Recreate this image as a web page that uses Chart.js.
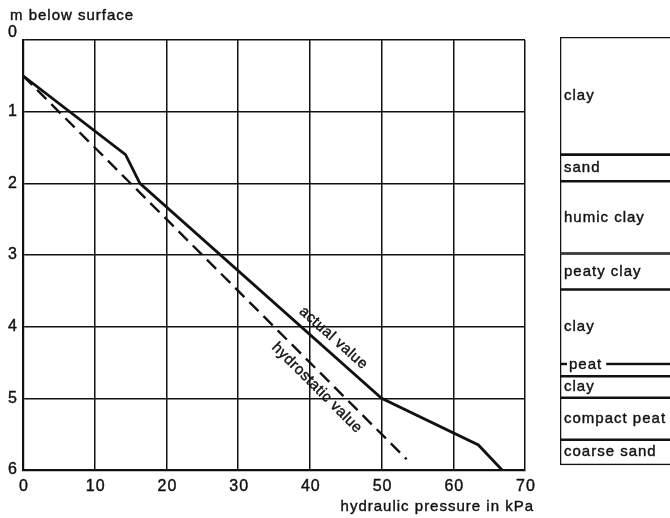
<!DOCTYPE html>
<html>
<head>
<meta charset="utf-8">
<script src="https://cdn.jsdelivr.net/npm/chart.js@4.4.1/dist/chart.umd.min.js"></script>
<style>
  html, body { margin: 0; padding: 0; background: #fff; overflow: hidden; }
  #wrap { position: relative; width: 670px; height: 518px; overflow: hidden; }
  #main { position: absolute; left: 0; top: 0; }
  #soil { position: absolute; left: 559px; top: 0; }
</style>
</head>
<body>
<div id="wrap">
  <canvas id="main" width="670" height="518"></canvas>
  <canvas id="soil" width="140" height="518"></canvas>
</div>
<script>
// axis ticks
const pressureTicks = [0, 10, 20, 30, 40, 50, 60, 70];
const depthTicks = [0, 1, 2, 3, 4, 5, 6];

// measured pressure (kPa) against depth (m below surface)
const actualPressure = [0, 14.3, 16.3, 50, 63.5, 66.8];
const actualDepth = [0.5, 1.6, 2.0, 5.0, 5.65, 6.0];

// hydrostatic pressure
const hydroPressure = [0, 53.5];
const hydroDepth = [0.5, 5.85];

// soil profile
const soilNames = ['clay', 'sand', 'humic clay', 'peaty clay', 'clay', 'peat', 'clay', 'compact peat', 'coarse sand'];
const soilTop = [0, 1.63, 2.0, 3.0, 3.5, 4.53, 4.7, 5.0, 5.58];
const soilBottom = [1.63, 2.0, 3.0, 3.5, 4.53, 4.7, 5.0, 5.58, 5.93];

const FONT = '"Liberation Sans", Arial, sans-serif';
const INK = '#111';

function toPoints(xs, ys) {
    return xs.map((x, i) => ({ x: x, y: ys[i] }));
}

// text a little heavier, like the printed original
function inkText(ctx, text, x, y) {
    ctx.fillText(text, x, y);
    ctx.strokeText(text, x, y);
}

function labelAlong(ctx, chart, data, i, t, offset, text) {
    const xs = chart.scales.x, ys = chart.scales.y;
    const x0 = xs.getPixelForValue(data[i].x), y0 = ys.getPixelForValue(data[i].y);
    const x1 = xs.getPixelForValue(data[i + 1].x), y1 = ys.getPixelForValue(data[i + 1].y);
    const a = Math.atan2(y1 - y0, x1 - x0);
    const cx = x0 + (x1 - x0) * t + Math.sin(a) * offset;
    const cy = y0 + (y1 - y0) * t - Math.cos(a) * offset;
    ctx.save();
    ctx.translate(cx, cy);
    ctx.rotate(a);
    ctx.textAlign = 'center';
    ctx.textBaseline = 'middle';
    inkText(ctx, text, 0, 0);
    ctx.restore();
}

const textPlugin = {
    id: 'texts',
    afterDraw(chart) {
        const ctx = chart.ctx;
        const xs = chart.scales.x, ys = chart.scales.y;
        ctx.save();
        ctx.fillStyle = INK;
        ctx.strokeStyle = INK;
        ctx.lineWidth = 0.4;
        ctx.letterSpacing = '1px';

        // y tick labels
        ctx.font = '16px ' + FONT;
        ctx.textAlign = 'center';
        ctx.textBaseline = 'middle';
        depthTicks.forEach(v => {
            const shift = v === 0 ? -7 : 0;
            inkText(ctx, String(v), 13, ys.getPixelForValue(v) + shift);
        });
        // x tick labels
        pressureTicks.forEach(v => {
            inkText(ctx, String(v), xs.getPixelForValue(v) + 1, 487);
        });

        // axis titles
        ctx.font = '15px ' + FONT;
        ctx.textAlign = 'left';
        ctx.textBaseline = 'alphabetic';
        inkText(ctx, 'm below surface', 10, 20);
        ctx.textAlign = 'right';
        inkText(ctx, 'hydraulic pressure in kPa', 534, 511);

        // line labels
        ctx.font = '15px ' + FONT;
        ctx.letterSpacing = '0.5px';
        labelAlong(ctx, chart, chart.data.datasets[0].data, 2, 0.765, 13, 'actual value');
        labelAlong(ctx, chart, chart.data.datasets[1].data, 0, 0.79, -13, 'hydrostatic value');
        ctx.restore();
    }
};

new Chart(document.getElementById('main'), {
    type: 'scatter',
    data: {
        datasets: [{
            label: 'actual value',
            data: toPoints(actualPressure, actualDepth),
            showLine: true,
            borderColor: INK,
            borderWidth: 2.8,
            pointRadius: 0,
            tension: 0
        }, {
            label: 'hydrostatic value',
            data: toPoints(hydroPressure, hydroDepth),
            showLine: true,
            borderColor: INK,
            borderWidth: 2.4,
            borderDash: [13, 7],
            pointRadius: 0,
            tension: 0
        }]
    },
    options: {
        responsive: false,
        animation: false,
        layout: { padding: { left: 23, right: 145, top: 40, bottom: 48 } },
        plugins: { legend: { display: false }, tooltip: { enabled: false } },
        scales: {
            x: {
                type: 'linear',
                min: 0,
                max: 70,
                ticks: { stepSize: 10, display: false },
                grid: { color: INK, lineWidth: 1.5, drawTicks: false },
                border: { display: true, color: INK, width: 2.2 }
            },
            y: {
                type: 'linear',
                reverse: true,
                min: 0,
                max: 6,
                ticks: { stepSize: 1, display: false },
                grid: { color: INK, lineWidth: 1.5, drawTicks: false },
                border: { display: true, color: INK, width: 2.2 }
            }
        }
    },
    plugins: [textPlugin]
});

// soil column labels
const soilLabelPlugin = {
    id: 'soilLabels',
    afterDatasetsDraw(chart) {
        const ctx = chart.ctx;
        const ys = chart.scales.y;
        const left = chart.chartArea.left;
        ctx.save();
        ctx.font = '15px ' + FONT;
        ctx.letterSpacing = '1px';
        ctx.fillStyle = INK;
        ctx.strokeStyle = INK;
        ctx.lineWidth = 0.4;
        ctx.textAlign = 'left';
        ctx.textBaseline = 'middle';
        soilNames.forEach((name, i) => {
            const top = ys.getPixelForValue(soilTop[i]);
            const bottom = ys.getPixelForValue(soilBottom[i]);
            if (bottom - top < 16) {
                // thin layer: label sits on its upper boundary
                const w = ctx.measureText(name).width;
                ctx.fillStyle = '#fff';
                ctx.fillRect(left + 7, top - 3, w + 6, 7);
                ctx.fillStyle = INK;
                inkText(ctx, name, left + 9, top + 1);
            } else {
                inkText(ctx, name, left + 4, (top + bottom) / 2);
            }
        });
        ctx.restore();
    }
};

new Chart(document.getElementById('soil'), {
    type: 'bar',
    data: {
        labels: ['profile'],
        datasets: soilNames.map((name, i) => ({
            label: name,
            data: [[soilTop[i], soilBottom[i]]],
            backgroundColor: '#fff',
            borderColor: INK,
            borderWidth: 1.6,
            borderSkipped: false,
            grouped: false,
            barPercentage: 1,
            categoryPercentage: 1
        }))
    },
    options: {
        responsive: false,
        animation: false,
        layout: { padding: { left: 1, right: 0, top: 37, bottom: 48 } },
        plugins: { legend: { display: false }, tooltip: { enabled: false } },
        scales: {
            x: { display: false },
            y: { display: false, reverse: true, min: 0, max: 6 }
        }
    },
    plugins: [soilLabelPlugin]
});
</script>
</body>
</html>
